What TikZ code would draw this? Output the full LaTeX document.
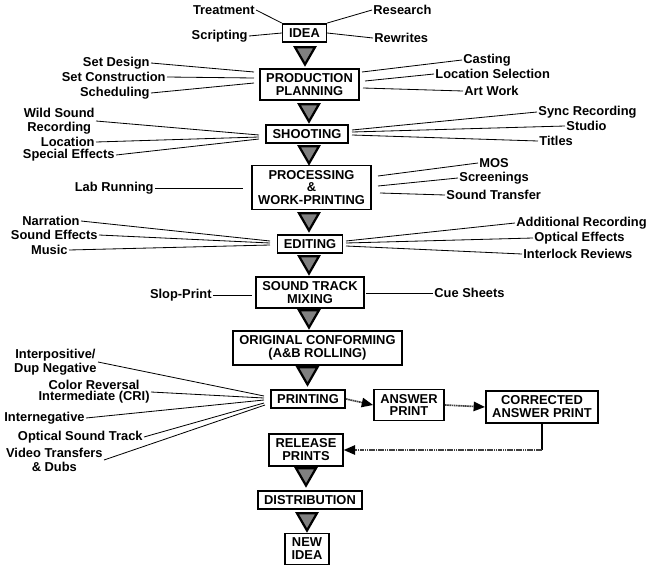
\documentclass[tikz,border=0pt]{standalone}
\usepackage{fontspec}
\setmainfont{Liberation Sans}
\usetikzlibrary{arrows.meta,shapes.geometric}
\tikzset{
  stage/.style={draw=black,line width=1.4pt,align=center,inner xsep=5.5pt,
                inner ysep=4pt,font=\fontsize{11}{11}\selectfont\bfseries},
  pointer/.style={regular polygon,regular polygon sides=3,shape border rotate=180,
                  draw=black,fill=black!50,line width=1.9pt,minimum size=0.69cm,
                  inner sep=0pt},
  lbl/.style={font=\fontsize{11}{12}\selectfont\bfseries,inner sep=1pt,align=center},
  feed/.style={line width=0.7pt},
  flow/.style={-{Triangle[length=3.4mm,width=2.8mm,black]},line width=1.4pt,
               black!75,dash pattern=on 1.4pt off 0.5pt},
}

\begin{document}
\begin{tikzpicture}[x=0.03cm,y=-0.03cm]
  \useasboundingbox (0,0) rectangle (662,585);
  % main column
  \node[stage] (idea)    at (304.5,33)  {IDEA};
  \node[stage] (prod)    at (309.5,84.5){PRODUCTION\\PLANNING};
  \node[stage] (shoot)   at (307,134)   {SHOOTING};
  \node[stage] (proc)    at (311.5,187.5){PROCESSING\\\&\\WORK-PRINTING};
  \node[stage] (edit)    at (310,244)   {EDITING};
  \node[stage] (mix)     at (310,292.5) {SOUND TRACK\\MIXING};
  \node[stage] (conf)    at (317.5,348) {ORIGINAL CONFORMING\\(A\&B ROLLING)};
  \node[stage] (print)   at (308,399)   {PRINTING};
  \node[stage] (answer)  at (409,405)   {ANSWER\\PRINT};
  \node[stage] (corr)    at (542,407)   {CORRECTED\\ANSWER PRINT};
  \node[stage] (release) at (306,450)   {RELEASE\\PRINTS};
  \node[stage] (dist)    at (310,500)   {DISTRIBUTION};
  \node[stage] (newidea) at (307,549)   {NEW\\IDEA};
  % pointers between stages
  \foreach \n/\x/\y in {t1/305/53, t2/309/110, t3/309/152, t4/309/219,
                        t5/309/262, t6/309/316, t7/307.5/373, t8/306/474,
                        t9/307/519}{
    \node[pointer] (\n) at (\x,\y) {};
  }
  % printing loop
  \draw[flow] (print.east) -- (answer.west);
  \draw[flow] (answer.east) -- (corr.west);
  \coordinate (turn) at (corr.south |- release.east);
  \draw[line width=1pt] (corr.south) -- (turn);
  \draw[flow] (turn) -- (release.east);

  % labels on the left
  \foreach \n/\x/\y/\t in {treat/256/10/Treatment, script/249/36/Scripting,
      setd/151/63/Set Design, setc/167/77/Set Construction,
      sched/151/93/Scheduling, wild/96/121/{Wild Sound\\Recording},
      loc/96/142/Location, spfx/116/155/Special Effects,
      lab/155/188/Lab Running, narr/81/221/Narration,
      sfx/99/235/Sound Effects, music/69/250/Music,
      slop/213/295/Slop-Print, ipos/98/362/{Interpositive/\\Dup Negative},
      ineg/86/418/Internegative, ost/144/437/Optical Sound Track,
      video/104/460/{Video Transfers\\\& Dubs}}{
    \node[lbl,anchor=east] (\n) at (\x,\y) {\t};
  }
  \node[lbl,anchor=east,font=\fontsize{11}{9.5}\selectfont\bfseries] (cri)
    at (151,392) {Color Reversal\\Intermediate (CRI)};
  % labels on the right
  \foreach \n/\x/\y/\t in {research/372/10/Research, rewr/373/38/Rewrites,
      cast/462/60/Casting, locsel/434/74/Location Selection,
      art/463/91/Art Work, sync/537/112/Sync Recording,
      studio/565/126/Studio, titles/538/141/Titles,
      mos/478/163/MOS, screen/458/178/Screenings,
      sndtr/445/195/Sound Transfer, addrec/515/223/Additional Recording,
      opt/533/238/Optical Effects, inter/522/254/Interlock Reviews,
      cue/433/293/Cue Sheets}{
    \node[lbl,anchor=west] (\n) at (\x,\y) {\t};
  }

  % ends of the feed lines near the stages
  \coordinate (pl1) at (254,72);  \coordinate (pl2) at (254,78);
  \coordinate (pl3) at (254,83);
  \coordinate (pr1) at (362,72);  \coordinate (pr2) at (365,81);
  \coordinate (pr3) at (363,88);
  \coordinate (sl1) at (259,135); \coordinate (sl2) at (259,137);
  \coordinate (sl3) at (259,139);
  \coordinate (sr1) at (352,130); \coordinate (sr2) at (352,132);
  \coordinate (sr3) at (352,135);
  \coordinate (cl1) at (243,188);
  \coordinate (cr1) at (378,176); \coordinate (cr2) at (378,186);
  \coordinate (cr3) at (380,193);
  \coordinate (el1) at (270,241); \coordinate (el2) at (270,243);
  \coordinate (el3) at (270,245);
  \coordinate (er1) at (346,241); \coordinate (er2) at (346,243);
  \coordinate (er3) at (346,246);
  \coordinate (ml1) at (252,295); \coordinate (mr1) at (366,293);
  \coordinate (gl1) at (264,396); \coordinate (gl2) at (264,398);
  \coordinate (gl3) at (264,400); \coordinate (gl4) at (264,403);
  \coordinate (gl5) at (265,405);

  \foreach \a/\b in {treat/idea.north west, script/idea.west,
      setd/pl1, setc/pl2, sched/pl3, wild/sl1, loc/sl2, spfx/sl3,
      lab/cl1, narr/el1, sfx/el2, music/el3, slop/ml1,
      ipos/gl1, cri/gl2, ineg/gl3, ost/gl4, video/gl5}{
    \draw[feed] (\a.east) -- (\b);
  }
  \foreach \a/\b in {idea.north east/research, idea.east/rewr,
      pr1/cast, pr2/locsel, pr3/art, sr1/sync, sr2/studio, sr3/titles,
      cr1/mos, cr2/screen, cr3/sndtr, er1/addrec, er2/opt, er3/inter,
      mr1/cue}{
    \draw[feed] (\a) -- (\b.west);
  }
\end{tikzpicture}
\end{document}
